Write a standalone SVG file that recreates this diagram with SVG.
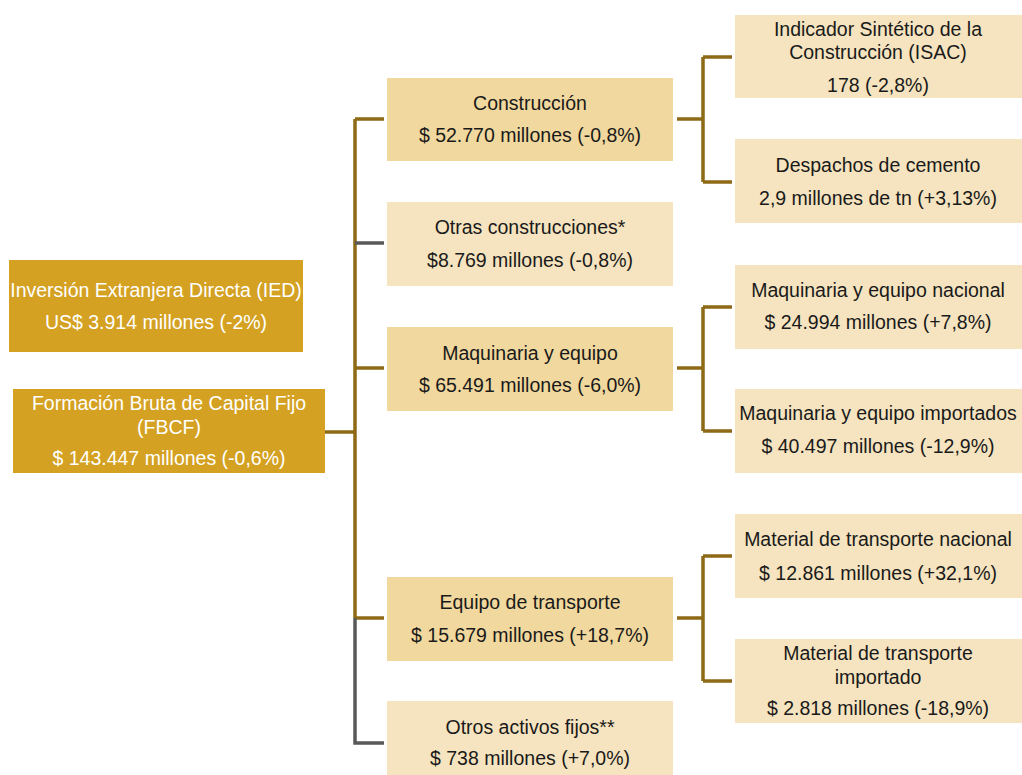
<svg xmlns="http://www.w3.org/2000/svg" width="1022" height="775" viewBox="0 0 1022 775">
<style>
text{font-family:"Liberation Sans",Arial,sans-serif;font-size:19.5px;text-anchor:middle;fill:#1a1a1a}
.dk{fill:#D4A122}
.dk text{fill:#fff}
.md{fill:#F1D89E}
.lt{fill:#F5E4BF}
.w text{fill:#fff}
.c{fill:none;stroke:#8E6A17;stroke-width:3.5}
.g{fill:none;stroke:#595959;stroke-width:3.5}
</style>
<rect width="1022" height="775" fill="#fff"/>
<g id="connectors">
<path class="c" d="M325 432H355M355 119V618M355 119H384M355 368H384M355 618H384"/>
<path class="g" d="M355 243H384M355 618V743H384"/>
<path class="c" d="M677 119H703M703 57V182M703 57H732M703 182H732"/>
<path class="c" d="M677 368H703M703 307V431M703 307H732M703 431H732"/>
<path class="c" d="M677 618H703M703 556V681M703 556H732M703 681H732"/>
</g>
<g id="ied" class="w"><rect class="dk" x="9" y="260" width="294" height="92"/>
<text x="156" y="297">Inversión Extranjera Directa (IED)</text><text x="156" y="329">US$ 3.914 millones (-2%)</text></g>
<g id="fbcf" class="w"><rect class="dk" x="13" y="389" width="312" height="84"/>
<text x="169" y="410">Formación Bruta de Capital Fijo</text><text x="169" y="434">(FBCF)</text><text x="169" y="465">$ 143.447 millones (-0,6%)</text></g>
<g id="construccion"><rect class="md" x="387" y="78" width="286" height="83"/>
<text x="530" y="110">Construcción</text><text x="530" y="142">$ 52.770 millones (-0,8%)</text></g>
<g id="otras"><rect class="lt" x="387" y="202" width="286" height="84"/>
<text x="530" y="234">Otras construcciones*</text><text x="530" y="267">$8.769 millones (-0,8%)</text></g>
<g id="maquinaria"><rect class="md" x="387" y="327" width="286" height="84"/>
<text x="530" y="360">Maquinaria y equipo</text><text x="530" y="392">$ 65.491 millones (-6,0%)</text></g>
<g id="equipo"><rect class="md" x="387" y="577" width="286" height="84"/>
<text x="530" y="609">Equipo de transporte</text><text x="530" y="642">$ 15.679 millones (+18,7%)</text></g>
<g id="otros"><rect class="lt" x="387" y="701" width="286" height="74"/>
<text x="530" y="734">Otros activos fijos**</text><text x="530" y="765">$ 738 millones (+7,0%)</text></g>
<g id="isac"><rect class="lt" x="735" y="15" width="287" height="83"/>
<text x="878" y="36">Indicador Sintético de la</text><text x="878" y="59">Construcción (ISAC)</text><text x="878" y="92">178 (-2,8%)</text></g>
<g id="cemento"><rect class="lt" x="735" y="139" width="287" height="84"/>
<text x="878" y="172">Despachos de cemento</text><text x="878" y="205">2,9 millones de tn (+3,13%)</text></g>
<g id="maqnac"><rect class="lt" x="735" y="265" width="287" height="84"/>
<text x="878" y="297">Maquinaria y equipo nacional</text><text x="878" y="329">$ 24.994 millones (+7,8%)</text></g>
<g id="maqimp"><rect class="lt" x="735" y="389" width="287" height="84"/>
<text x="878" y="420">Maquinaria y equipo importados</text><text x="878" y="453">$ 40.497 millones (-12,9%)</text></g>
<g id="matnac"><rect class="lt" x="735" y="514" width="287" height="84"/>
<text x="878" y="546">Material de transporte nacional</text><text x="878" y="580">$ 12.861 millones (+32,1%)</text></g>
<g id="matimp"><rect class="lt" x="735" y="639" width="287" height="84"/>
<text x="878" y="660">Material de transporte</text><text x="878" y="684">importado</text><text x="878" y="715">$ 2.818 millones (-18,9%)</text></g>
</svg>
